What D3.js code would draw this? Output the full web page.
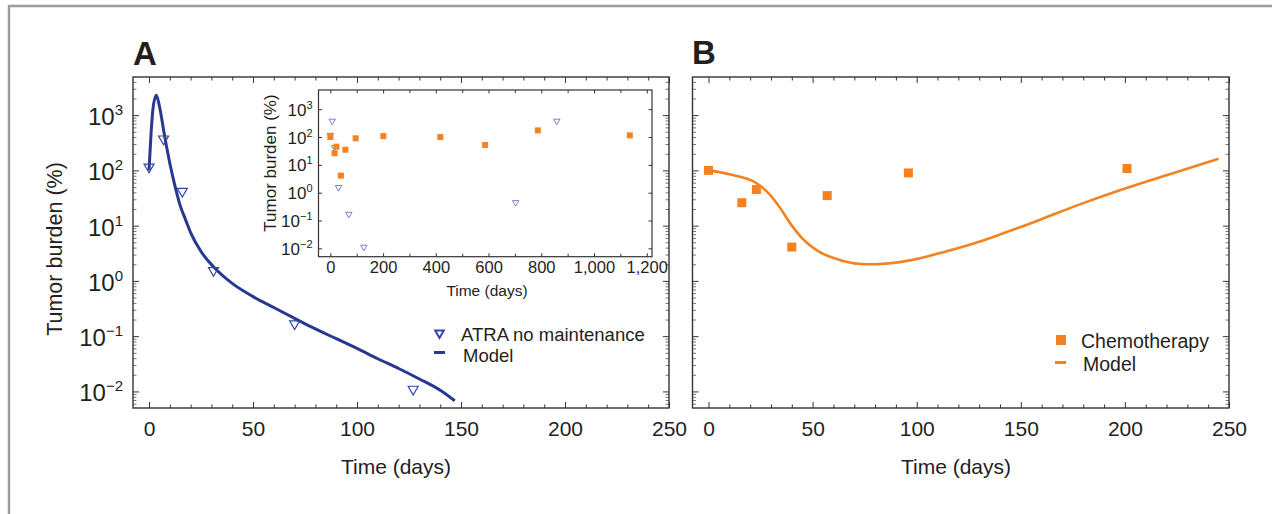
<!DOCTYPE html>
<html>
<head>
<meta charset="utf-8">
<script src="https://cdn.jsdelivr.net/npm/d3@7"></script>
<style>
  body { margin: 0; background: #fff; }
  text { font-family: "Liberation Sans", Arial, Helvetica, sans-serif; fill: #231f20; }
</style>
</head>
<body>
<div id="viz"></div>
<script>
// Datos
const atraDays   = [0, 7, 16, 31, 70, 127, 703, 859];
const atraBurden = [110, 355, 40, 1.47, 0.16, 0.0105, 0.42, 355];

const chemoDays   = [0, 16, 23, 40, 57, 96, 201, 417, 587, 787, 1136];
const chemoBurden = [100, 26, 45, 4.1, 35, 90, 108, 100, 52, 173, 115];

const modelADays   = [0, 1, 2, 3.5, 5, 7.5, 10, 12.5, 15, 17.5, 20, 25, 31, 40, 50, 60, 70, 80, 90, 100, 110, 120, 130, 140, 147];
const modelABurden = [100, 480, 1400, 2300, 1450, 420, 135, 52, 23, 13, 7.5, 3.4, 1.8, 0.9, 0.52, 0.33, 0.21, 0.135, 0.09, 0.06, 0.039, 0.026, 0.0168, 0.0105, 0.0068];

const modelBDays   = [0, 10, 23, 29, 34, 40, 45, 53, 63, 72, 80, 98, 114, 130, 140, 159, 178, 200, 220, 245];
const modelBBurden = [100, 85, 59, 38, 22, 10, 5.9, 3.4, 2.4, 2.05, 2.0, 2.4, 3.4, 5.1, 6.9, 12.7, 24, 47, 82, 162];

const xTicksMain  = [0, 50, 100, 150, 200, 250];
const xTicksInset = [0, 200, 400, 600, 800, 1000, 1200];
const yTicks      = [1e-2, 1e-1, 1e0, 1e1, 1e2, 1e3];

const blue = '#283891';
const orange = '#f58220';
const axisColor = '#333';

let w = 1272, h = 514;

let svg = d3.select('#viz')
    .append('svg')
        .attr('width', w)
        .attr('height', h);

svg.append('rect').attr('width', w).attr('height', h).attr('fill', '#fff');

// Marco gris exterior
svg.append('path')
    .attr('d', `M9,${h} L9,6 L${w},6`)
    .attr('fill', 'none')
    .attr('stroke', '#9d9d9d')
    .attr('stroke-width', 2.5);

let yDomain = [Math.pow(10, -2.3), Math.pow(10, 3.69)];

// Minor ticks log: 2..9 x 10^k
let yMinor = [];
for (let k = -3; k <= 3; k++) {
    for (let j = 2; j <= 9; j++) {
        let v = j * Math.pow(10, k);
        if (v > yDomain[0] && v < yDomain[1]) yMinor.push(v);
    }
}

function supLabel(sel, supSize, rise) {
    sel.each(function(d) {
        let t = d3.select(this);
        let e = Math.round(Math.log10(d));
        t.append('tspan').text('10');
        t.append('tspan')
            .attr('dy', -rise)
            .style('font-size', supSize + 'px')
            .text(e < 0 ? '\u2212' + Math.abs(e) : e);
    });
}

// Dibuja caja, ticks y etiquetas de un panel
function drawFrame(g, x, y, o) {
    let [x0, x1] = x.range();
    let [y1, y0] = y.range();

    // Eje X abajo, mayores
    let bx = g.append('g')
        .attr('transform', `translate(0,${y1})`)
        .call(d3.axisBottom(x).tickValues(o.xMajor).tickSizeInner(-o.major).tickSizeOuter(0)
            .tickPadding(o.xPad).tickFormat(o.xFormat));
    bx.select('.domain').remove();
    bx.selectAll('text').style('font-size', o.font + 'px').attr('fill', '#231f20');
    bx.selectAll('line').attr('stroke', axisColor);

    if (o.xMinor) {
        let mx = g.append('g')
            .attr('transform', `translate(0,${y1})`)
            .call(d3.axisBottom(x).tickValues(o.xMinor).tickSizeInner(-o.minor).tickSizeOuter(0).tickFormat(''));
        mx.select('.domain').remove();
        mx.selectAll('line').attr('stroke', axisColor);
    }

    // Eje X arriba
    let tx = g.append('g')
        .attr('transform', `translate(0,${y0})`)
        .call(d3.axisTop(x).tickValues(o.xMajor).tickSizeInner(-o.major).tickSizeOuter(0).tickFormat(''));
    tx.select('.domain').remove();
    tx.selectAll('line').attr('stroke', axisColor);
    if (o.xMinor) {
        let tm = g.append('g')
            .attr('transform', `translate(0,${y0})`)
            .call(d3.axisTop(x).tickValues(o.xMinor).tickSizeInner(-o.minor).tickSizeOuter(0).tickFormat(''));
        tm.select('.domain').remove();
        tm.selectAll('line').attr('stroke', axisColor);
    }

    // Eje Y izquierda y derecha
    [[x0, d3.axisLeft], [x1, d3.axisRight]].forEach(function(s) {
        let a = g.append('g')
            .attr('transform', `translate(${s[0]},0)`)
            .call(s[1](y).tickValues(yTicks).tickSizeInner(-o.major).tickSizeOuter(0).tickFormat(''));
        a.select('.domain').remove();
        a.selectAll('line').attr('stroke', axisColor);
        if (o.yMinor) {
            let m = g.append('g')
                .attr('transform', `translate(${s[0]},0)`)
                .call(s[1](y).tickValues(yMinor).tickSizeInner(-o.minor).tickSizeOuter(0).tickFormat(''));
            m.select('.domain').remove();
            m.selectAll('line').attr('stroke', '#555').attr('stroke-width', 0.8);
        }
    });

    // Caja
    g.append('rect')
        .attr('x', x0).attr('y', y0)
        .attr('width', x1 - x0).attr('height', y1 - y0)
        .attr('fill', 'none')
        .attr('stroke', axisColor)
        .attr('stroke-width', o.box);

    // Etiquetas Y con superíndice
    if (o.yLabels) {
        g.selectAll('text.ylab')
            .data(yTicks)
            .join('text')
                .attr('class', 'ylab')
                .attr('x', x0 - o.yLabelGap)
                .attr('y', d => y(d) + o.yLabelDy)
                .attr('text-anchor', 'end')
                .style('font-size', o.yFont + 'px')
                .call(supLabel, o.supFont, o.rise);
    }
}

function triPath(s) {
    return `M${-s},${-s * 0.8} L${s},${-s * 0.8} L0,${s * 0.95} Z`;
}

// ---------------- Panel A ----------------
let gA = svg.append('g');
let xA = d3.scaleLinear().domain([-7.7, 250]).range([133, 669]);
let yA = d3.scaleLog().domain(yDomain).range([408, 77]);

drawFrame(gA, xA, yA, {
    xMajor: xTicksMain, xMinor: d3.range(10, 250, 10).filter(d => d % 50 != 0),
    major: 6, minor: 3.5, xPad: 13, font: 21, xFormat: d3.format('d'),
    yMinor: true, box: 1.4, yLabels: true, yFont: 24, yLabelGap: 10, yLabelDy: 10, supFont: 15, rise: 10
});

gA.append('path')
    .datum(d3.zip(modelADays, modelABurden))
    .attr('fill', 'none')
    .attr('stroke', blue)
    .attr('stroke-width', 3)
    .attr('d', d3.line().x(d => xA(d[0])).y(d => yA(d[1])).curve(d3.curveMonotoneX));

gA.selectAll('path.tri')
    .data(d3.zip(atraDays, atraBurden).filter(d => d[0] <= 250))
    .join('path')
        .attr('class', 'tri')
        .attr('transform', d => `translate(${xA(d[0])},${yA(d[1])})`)
        .attr('d', triPath(5))
        .attr('fill', 'none')
        .attr('stroke', '#3446a8')
        .attr('stroke-width', 1.2);

gA.append('text').attr('x', 133).attr('y', 65)
    .style('font-size', '33px').style('font-weight', 'bold').text('A');

gA.append('text').attr('x', 396).attr('y', 474).attr('text-anchor', 'middle')
    .style('font-size', '21px').text('Time (days)');

gA.append('text')
    .attr('transform', 'translate(62,249) rotate(-90)')
    .attr('text-anchor', 'middle')
    .style('font-size', '21.5px')
    .text('Tumor burden (%)');

// Leyenda A
gA.append('path').attr('transform', 'translate(439.5,334)').attr('d', triPath(4.3))
    .attr('fill', 'none').attr('stroke', '#3446a8').attr('stroke-width', 2);
gA.append('text').attr('x', 461).attr('y', 341).style('font-size', '18.5px').text('ATRA no maintenance');
gA.append('line').attr('x1', 434).attr('x2', 445).attr('y1', 352.5).attr('y2', 352.5)
    .attr('stroke', blue).attr('stroke-width', 3);
gA.append('text').attr('x', 463).attr('y', 362).style('font-size', '18.5px').text('Model');

// ---------------- Inset ----------------
let gI = svg.append('g');
let xI = d3.scaleLinear().domain([-45, 1220]).range([318.5, 652]);
let yI = d3.scaleLog().domain(yDomain).range([256.7, 90]);

gI.append('rect').attr('x', 318.5).attr('y', 90).attr('width', 652 - 318.5).attr('height', 256.7 - 90)
    .attr('fill', '#fff');

drawFrame(gI, xI, yI, {
    xMajor: xTicksInset, xMinor: d3.range(100, 1200, 200),
    major: 3.5, minor: 3, xPad: 5, font: 16.5, xFormat: d3.format(','),
    yMinor: false, box: 1.2, yLabels: true, yFont: 17, yLabelGap: 6, yLabelDy: 6.5, supFont: 11, rise: 7
});

gI.selectAll('path.tri')
    .data(d3.zip(atraDays, atraBurden))
    .join('path')
        .attr('class', 'tri')
        .attr('transform', d => `translate(${xI(d[0])},${yI(d[1])})`)
        .attr('d', triPath(3.2))
        .attr('fill', 'none')
        .attr('stroke', '#6a72c4')
        .attr('stroke-width', 0.9);

gI.selectAll('rect.sq')
    .data(d3.zip(chemoDays, chemoBurden))
    .join('rect')
        .attr('class', 'sq')
        .attr('x', d => xI(d[0]) - 3)
        .attr('y', d => yI(d[1]) - 3)
        .attr('width', 6).attr('height', 6)
        .attr('fill', orange);

gI.append('text').attr('x', 487).attr('y', 296).attr('text-anchor', 'middle')
    .style('font-size', '15.5px').text('Time (days)');

gI.append('text')
    .attr('transform', 'translate(276,163) rotate(-90)')
    .attr('text-anchor', 'middle')
    .style('font-size', '17px')
    .text('Tumor burden (%)');

// ---------------- Panel B ----------------
let gB = svg.append('g');
let xB = d3.scaleLinear().domain([-7.7, 250]).range([692.5, 1229]);
let yB = d3.scaleLog().domain(yDomain).range([408, 77]);

drawFrame(gB, xB, yB, {
    xMajor: xTicksMain, xMinor: d3.range(10, 250, 10).filter(d => d % 50 != 0),
    major: 6, minor: 3.5, xPad: 13, font: 21, xFormat: d3.format('d'),
    yMinor: true, box: 1.4, yLabels: false
});

gB.append('path')
    .datum(d3.zip(modelBDays, modelBBurden))
    .attr('fill', 'none')
    .attr('stroke', orange)
    .attr('stroke-width', 2.6)
    .attr('d', d3.line().x(d => xB(d[0])).y(d => yB(d[1])).curve(d3.curveMonotoneX));

gB.selectAll('rect.sq')
    .data(d3.zip(chemoDays, chemoBurden).filter(d => d[0] <= 250))
    .join('rect')
        .attr('class', 'sq')
        .attr('x', d => xB(d[0]) - 4.5)
        .attr('y', d => yB(d[1]) - 4.5)
        .attr('width', 9).attr('height', 9)
        .attr('fill', orange);

gB.append('text').attr('x', 692).attr('y', 64)
    .style('font-size', '33px').style('font-weight', 'bold').text('B');

gB.append('text').attr('x', 956).attr('y', 474).attr('text-anchor', 'middle')
    .style('font-size', '21px').text('Time (days)');

// Leyenda B
gB.append('rect').attr('x', 1056).attr('y', 335).attr('width', 10).attr('height', 10).attr('fill', orange);
gB.append('text').attr('x', 1081).attr('y', 348).style('font-size', '19.5px').text('Chemotherapy');
gB.append('line').attr('x1', 1055).attr('x2', 1066).attr('y1', 362.5).attr('y2', 362.5)
    .attr('stroke', orange).attr('stroke-width', 3);
gB.append('text').attr('x', 1083).attr('y', 371).style('font-size', '19.5px').text('Model');
</script>
</body>
</html>
